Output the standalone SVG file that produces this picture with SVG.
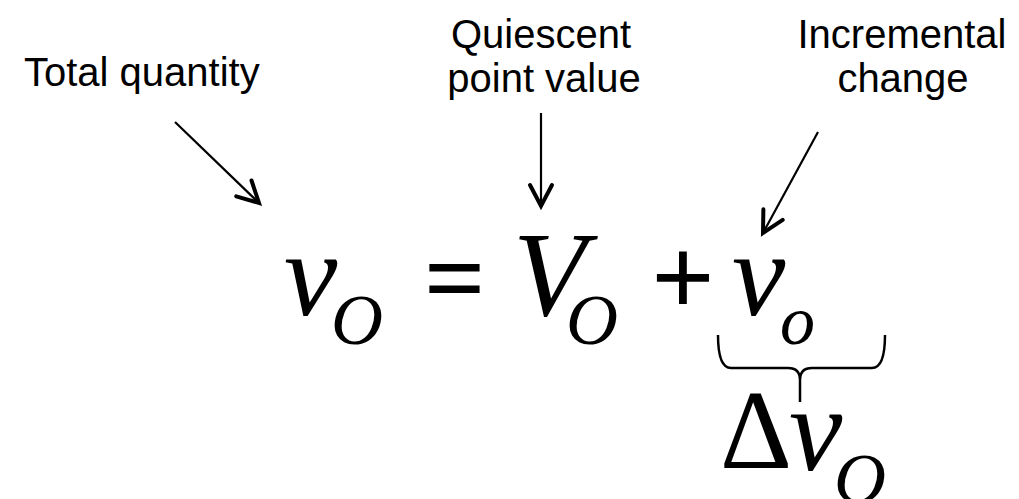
<svg xmlns="http://www.w3.org/2000/svg" width="1019" height="499" viewBox="0 0 1019 499">
<style>
.lbl{font-family:"Liberation Sans",Arial,sans-serif;font-size:40px;fill:#000}
.mi{font-family:"Liberation Serif","Times New Roman",serif;font-style:italic;fill:#000}
.mo{font-family:"Liberation Serif","Times New Roman",serif;fill:#000}
.big{font-size:120px}
.sub{font-size:72px}
.conn{stroke:#000;stroke-width:2.2;fill:none}
.brace{stroke:#000;stroke-width:2.5;fill:none}
</style>
<defs>
<marker id="arr" markerUnits="userSpaceOnUse" markerWidth="40" markerHeight="40" refX="0" refY="0" viewBox="-30 -20 40 40" orient="auto" overflow="visible">
<path d="M -21,-11 L 0,0 L -21,11" fill="none" stroke="#000" stroke-width="4" stroke-linejoin="miter" stroke-linecap="round"/>
</marker>
</defs>
<rect width="1019" height="499" fill="#fff"/>
<g id="label-total">
<text class="lbl" x="24" y="86">Total quantity</text>
</g>
<g id="label-quiescent">
<text class="lbl" x="541" y="48" text-anchor="middle">Quiescent</text>
<text class="lbl" x="544" y="92" text-anchor="middle">point value</text>
</g>
<g id="label-incremental">
<text class="lbl" x="902" y="48" text-anchor="middle">Incremental</text>
<text class="lbl" x="903" y="92" text-anchor="middle">change</text>
</g>
<g id="connectors">
<line class="conn" x1="175" y1="122" x2="259" y2="203" marker-end="url(#arr)"/>
<line class="conn" x1="541" y1="113" x2="541" y2="206" marker-end="url(#arr)"/>
<line class="conn" x1="818" y1="132" x2="763" y2="233" marker-end="url(#arr)"/>
</g>
<g id="equation">
<text class="mi big" x="284" y="315">v</text>
<text class="mi sub" x="331" y="344">O</text>
<text class="mo" font-size="108" font-weight="bold" x="424" y="314">=</text>
<text class="mi big" x="513" y="315">V</text>
<text class="mi sub" x="566" y="344">O</text>
<text class="mo" font-size="112" font-weight="bold" x="651" y="315">+</text>
<text class="mi big" x="732" y="315">v</text>
<text class="mi" font-size="70" x="780" y="344">o</text>
</g>
<g id="brace">
<path class="brace" d="M 718,335 Q 718,368 731,368 L 788,368 Q 800,368 800,380 L 800,402 M 800,380 Q 800,368 812,368 L 872,368 Q 885,368 885,335"/>
</g>
<g id="delta">
<text class="mo" font-size="112" x="720" y="468">Δ</text>
<text class="mi big" x="789" y="470">v</text>
<text class="mi sub" x="834" y="503">O</text>
</g>
</svg>
